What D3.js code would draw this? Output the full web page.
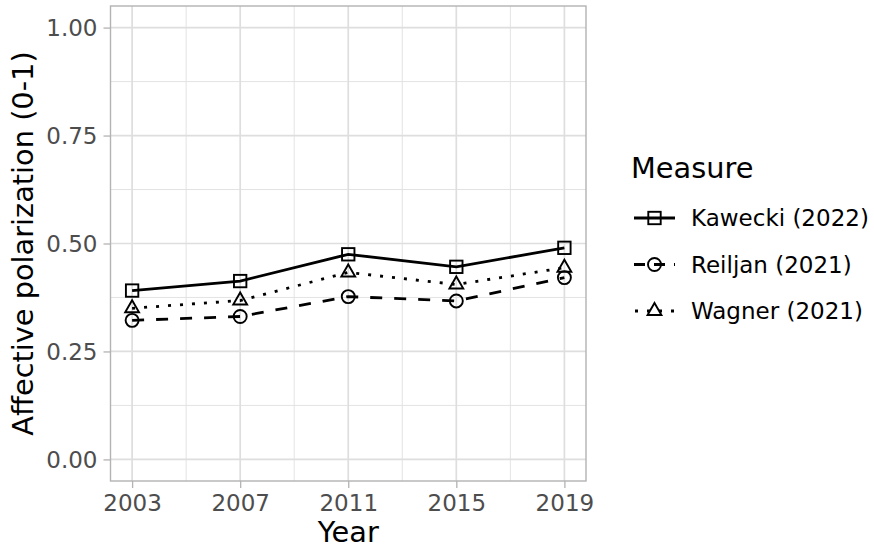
<!DOCTYPE html>
<html><head><meta charset="utf-8">
<script src="https://cdn.jsdelivr.net/npm/d3@7"></script>
<style>body{margin:0;background:#fff}svg{display:block}text{font-family:"DejaVu Sans",sans-serif}</style>
</head><body><svg id="c" width="874" height="548"></svg>
<script>
const years = [2003, 2007, 2011, 2015, 2019];
const kawecki = [0.391, 0.413, 0.475, 0.446, 0.490];
const reiljan = [0.322, 0.331, 0.377, 0.367, 0.421];
const wagner = [0.350, 0.368, 0.433, 0.405, 0.444];
const seriesNames = ["Kawecki (2022)", "Reiljan (2021)", "Wagner (2021)"];
const yTicks = [0, 0.25, 0.5, 0.75, 1.0];

const svg = d3.select("#c");
const P = {l:110.5, r:586, t:6, b:481};
const x = d3.scaleLinear().domain([2003 - 0.8, 2019 + 0.8]).range([P.l, P.r]);
const y = d3.scaleLinear().domain([-0.05, 1.05]).range([P.b, P.t]);

const g = svg.append("g");
const xMinor = [2005, 2009, 2013, 2017];
const yMinor = [0.125, 0.375, 0.625, 0.875];
g.selectAll(".xm").data(xMinor).join("line").attr("x1", d=>x(d)).attr("x2", d=>x(d)).attr("y1", P.t).attr("y2", P.b).attr("stroke", "#e0e0e0").attr("stroke-width", 0.9);
g.selectAll(".ym").data(yMinor).join("line").attr("y1", d=>y(d)).attr("y2", d=>y(d)).attr("x1", P.l).attr("x2", P.r).attr("stroke", "#e0e0e0").attr("stroke-width", 0.9);
g.selectAll(".xM").data(years).join("line").attr("x1", d=>x(d)).attr("x2", d=>x(d)).attr("y1", P.t).attr("y2", P.b).attr("stroke", "#dedede").attr("stroke-width", 1.7);
g.selectAll(".yM").data(yTicks).join("line").attr("y1", d=>y(d)).attr("y2", d=>y(d)).attr("x1", P.l).attr("x2", P.r).attr("stroke", "#dedede").attr("stroke-width", 1.7);

const xAxis = d3.axisBottom(x).tickValues(years).tickFormat(d3.format("d")).tickSize(7).tickPadding(7);
const yAxis = d3.axisLeft(y).tickValues(yTicks).tickFormat(d3.format(".2f")).tickSize(7).tickPadding(6);
const ax = svg.append("g").attr("transform", `translate(0,${P.b})`).call(xAxis);
const ay = svg.append("g").attr("transform", `translate(${P.l},0)`).call(yAxis);
[ax, ay].forEach(a => {
  a.select(".domain").remove();
  a.selectAll(".tick line").attr("stroke", "#b3b3b3").attr("stroke-width", 1.3);
  a.selectAll(".tick text").attr("fill", "#4d4d4d").style("font-size", "23px");
});
ax.selectAll(".tick text").attr("dy", "0.71em");
ay.selectAll(".tick text").attr("dy", "0.36em");

svg.append("rect").attr("x", P.l).attr("y", P.t).attr("width", P.r - P.l).attr("height", P.b - P.t).attr("fill", "none").attr("stroke", "#b3b3b3").attr("stroke-width", 1.4);

svg.append("text").attr("x", x(2011)).attr("y", 542).attr("text-anchor", "middle").style("font-size", "28.8px").text("Year");
svg.append("text").attr("transform", `translate(33,${(P.t+P.b)/2}) rotate(-90)`).attr("text-anchor", "middle").style("font-size", "28.8px").text("Affective polarization (0-1)");

const data = [kawecki, reiljan, wagner];
const dashes = [null, "12,12", "3,9"];
const line = d3.line().x((d,i)=>x(years[i])).y(d=>y(d));
data.forEach((vals, k) => {
  svg.append("path").attr("d", line(vals)).attr("fill", "none").attr("stroke", "#000").attr("stroke-width", 2.8)
    .attr("stroke-dasharray", dashes[k]);
});

function shape(sel, k, cx, cy) {
  const s = sel.append("g");
  if (k === 0) s.append("rect").attr("x", cx-6.2).attr("y", cy-6.2).attr("width", 12.4).attr("height", 12.4);
  else if (k === 1) s.append("circle").attr("cx", cx).attr("cy", cy).attr("r", 6.5);
  else {
    const r = 8;
    s.append("path").attr("d", `M${cx},${cy - r}L${cx + r*0.866},${cy + r*0.5}L${cx - r*0.866},${cy + r*0.5}Z`);
  }
  s.selectAll("*").attr("fill", "none").attr("stroke", "#000").attr("stroke-width", 1.9);
}
data.forEach((vals, k) => vals.forEach((v, i) => shape(svg, k, x(years[i]), y(v))));

svg.append("text").attr("x", 631).attr("y", 178).style("font-size", "28.8px").text("Measure");
const ly = [218, 264.5, 311];
seriesNames.forEach((n, k) => {
  svg.append("line").attr("x1", 634).attr("x2", 675).attr("y1", ly[k]).attr("y2", ly[k]).attr("stroke", "#000").attr("stroke-width", 2.8)
    .attr("stroke-dasharray", k===1 ? "11,9" : dashes[k]).attr("stroke-dashoffset", k===2 ? -1 : 0);
  shape(svg, k, 654.5, ly[k]);
  svg.append("text").attr("x", 691).attr("y", ly[k]).attr("dy", "0.36em").style("font-size", "23px").text(n);
});
</script></body></html>
